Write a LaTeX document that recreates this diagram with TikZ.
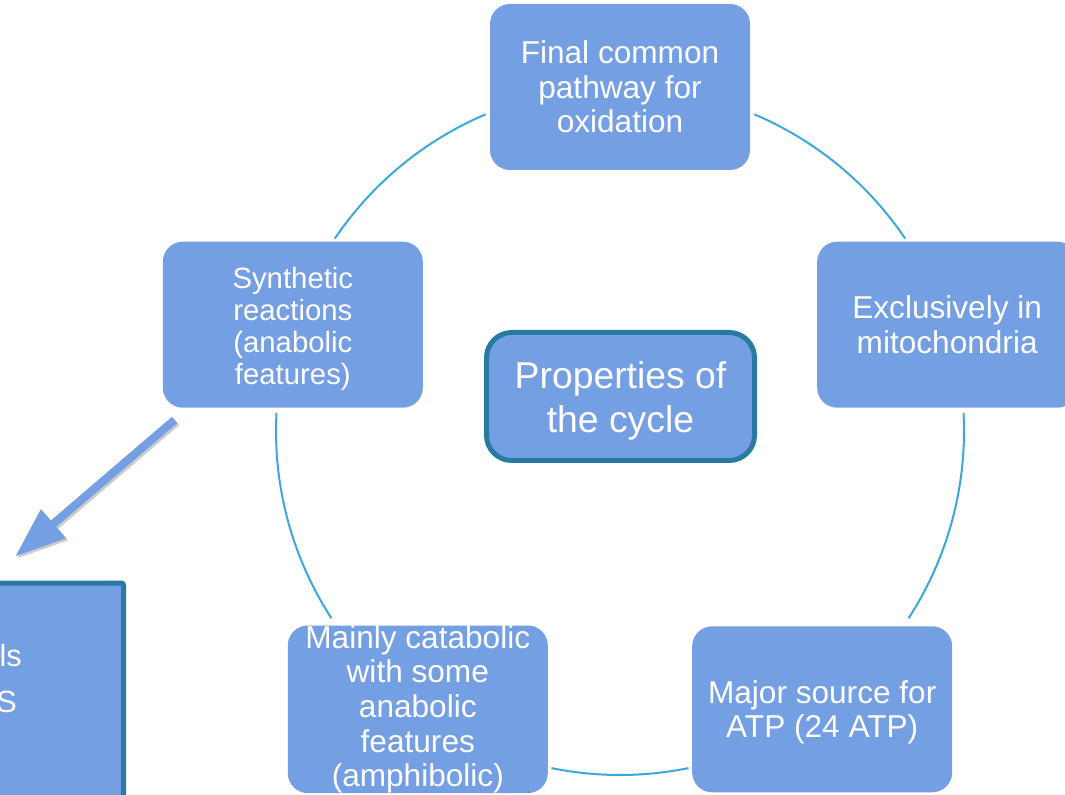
\documentclass[tikz,border=0pt]{standalone}
\usepackage{fontspec}
\setmainfont{Liberation Sans}
\usetikzlibrary{arrows.meta}
\definecolor{boxblue}{RGB}{116,159,227}
\definecolor{ringblue}{RGB}{58,168,221}
\definecolor{edgeteal}{RGB}{40,122,162}
\newcommand{\padtop}[1]{\rule{0pt}{#1}}

\begin{document}
\begin{tikzpicture}[
    x=0.75pt, y=0.75pt,
    box/.style={rectangle, rounded corners=15pt, fill=boxblue, text=white,
        minimum width=195pt, minimum height=124.5pt, inner xsep=2pt, inner ysep=0pt,
        align=center, font=\fontsize{23.7}{25.9}\selectfont},
    hub/.style={box, draw=edgeteal, line width=3.75pt, rounded corners=19pt,
        minimum width=201pt, minimum height=96pt, font=\fontsize{28}{33}\selectfont},
    cut/.style={rectangle, rounded corners=1.5pt, fill=boxblue, draw=edgeteal,
        line width=3.75pt, minimum width=200pt, minimum height=200pt},
    cuttxt/.style={text=white, inner sep=0pt, font=\fontsize{23}{26}\selectfont},
    ring/.style={ringblue, line width=1.5pt},
    arr/.style={-{Triangle[length=38pt, width=27pt]}, line width=6.2pt, boxblue},
    arrshade/.style={arr, black, opacity=0.2, transform canvas={xshift=1.5pt, yshift=-1.5pt}}
]
\useasboundingbox (0,0) rectangle (1065,794);
\coordinate (ctr) at (620,363);

% ring between the five boxes
\draw[ring] ([shift={(67:258pt)}]ctr) arc[start angle=67, end angle=34, radius=258pt];
\draw[ring] ([shift={(3:258pt)}]ctr) arc[start angle=3, end angle=-33, radius=258pt];
\draw[ring] ([shift={(-78.5:258pt)}]ctr) arc[start angle=-78.5, end angle=-101.5, radius=258pt];
\draw[ring] ([shift={(213:258pt)}]ctr) arc[start angle=213, end angle=177, radius=258pt];
\draw[ring] ([shift={(146:258pt)}]ctr) arc[start angle=146, end angle=113, radius=258pt];

\node[box] (fcp) at ([shift={(90:258pt)}]ctr) {Final common\\pathway for\\oxidation};
\node[box] (mito) at ([shift={(18:258pt)}]ctr) {Exclusively in\\mitochondria};
\node[box] (atp) at ([shift={(-54:258pt)}]ctr) {\padtop{21.8pt}Major source for\\ATP (24 ATP)};
\node[box] (amph) at ([shift={(-126:258pt)}]ctr) {Mainly catabolic\\with some\\anabolic\\features\\(amphibolic)};
\node[box, font=\fontsize{22}{24}\selectfont] (syn) at ([shift={(162:258pt)}]ctr) {\padtop{22pt}Synthetic\\reactions\\(anabolic\\features)};
\node[hub] (prop) at (620.5,397.5) {\padtop{27pt}Properties of\\the cycle};

% box cut by the left edge
\node[cut, anchor=north east] (side) at (126,213.3) {};
\node[cuttxt, anchor=base east] (side1) at (22,128) {ls};
\node[cuttxt, anchor=base east] (side2) at (17,82) {S};

\draw[arrshade] ([shift={(12,-12)}]syn.south west) -- ([shift={(-111,24)}]side.north east);
\draw[arr] ([shift={(12,-12)}]syn.south west) -- ([shift={(-111,24)}]side.north east);
\end{tikzpicture}
\end{document}
